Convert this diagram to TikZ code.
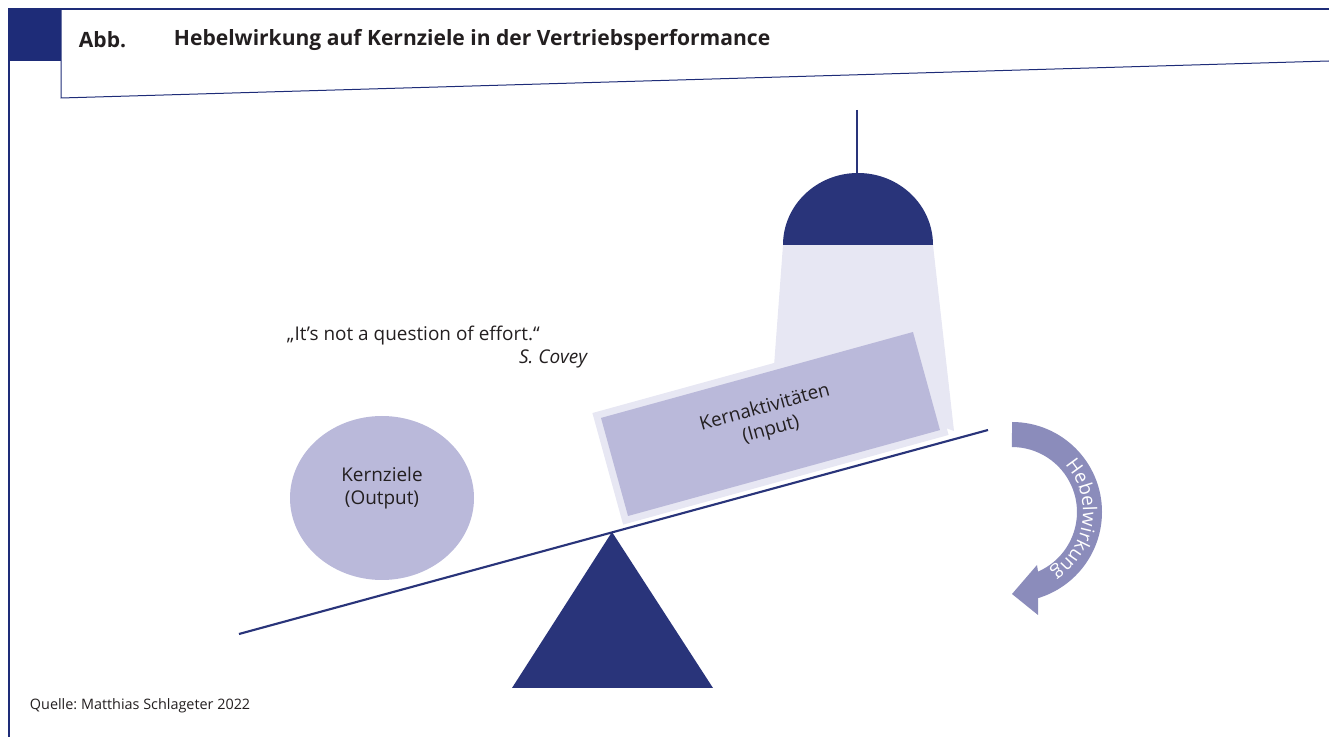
\documentclass[tikz,border=0pt]{standalone}
\usepackage{fontspec}
\setmainfont{Open Sans}
\usetikzlibrary{shapes.geometric,decorations.text}
\frenchspacing

\definecolor{navy}{RGB}{41,52,122}
\definecolor{framecol}{RGB}{30,44,120}
\definecolor{beamcol}{RGB}{231,231,243}
\definecolor{boxcol}{RGB}{186,185,218}
\definecolor{hebelcol}{RGB}{139,140,187}
\definecolor{inkcol}{RGB}{35,31,32}

\tikzset{every picture/.style={line width=0.75pt}}
\tikzset{
  txt/.style={text=inkcol, font=\fontsize{14.2}{17}\selectfont, align=center},
  ttl/.style={text=inkcol, font=\fontsize{15.8}{19}\selectfont\bfseries, anchor=west},
  goalbox/.style={ellipse, fill=boxcol, inner sep=0pt},
  actbox/.style={rectangle, fill=boxcol, inner sep=0pt},
}

\begin{document}
\begin{tikzpicture}[x=0.75pt,y=0.75pt,yscale=-1,xscale=1]
	\useasboundingbox (0,0) rectangle (1329,737);

	%Frame
	\draw[framecol, line width=1.1pt] (9,737) -- (9,9) -- (1329,9) ;
	\fill[framecol] (9,9) rectangle (61,61) ;
	\draw[framecol] (61,9) -- (61,98) -- (1329,61) ;

	% Title
	\node[ttl] (abb) at (74,40) {Abb.};
	\node[ttl] (titel) at (169,40) {Hebelwirkung auf Kernziele in der Vertriebsperformance};

	%Light beam
	\fill[beamcol] (783,245) -- (933,245) -- (954,431) -- (774,366) -- cycle ;
	\node[rectangle, fill=beamcol, rotate=15.4, minimum width=253.2pt, minimum height=86.8pt] (halo) at (770.5,424) {};
	%Lamp
	\draw[navy, line width=1.6pt] (857,110) -- (857,175) ;
	\fill[navy] (783,245) arc[start angle=180, end angle=360, x radius=75, y radius=72] -- cycle ;

	% Input box
	\node[actbox, rotate=15.4, minimum width=242.7pt, minimum height=76.3pt] (kernakt) at (770.5,424) {};
	\node[txt, rotate=15.4] (kernakttxt) at (768,419) {Kernaktivitäten\\(Input)};

	%Lever
	\draw[navy, line width=1.6pt] (239,634) -- (988,430) ;
	\fill[navy] (612,532) -- (713,688) -- (512,688) -- cycle ;

	% Output circle
	\node[goalbox, minimum width=138pt, minimum height=123pt] (kernziele) at (382,498) {};
	\node[txt] (kernzieletxt) at (382,488) {Kernziele\\(Output)};

	% Quote
	\node[txt, anchor=west] (zitat) at (282,336) {„It’s not a question of effort.“};
	\node[txt, anchor=east, font=\fontsize{14.2}{17}\selectfont\itshape] (covey) at (592,359) {S. Covey};

	%Curved arrow
	\fill[hebelcol] (1012,422) arc[start angle=-90, end angle=73.2, radius=90] -- (1038,615) -- (1012,594) -- (1037,565) -- (1038,571.6) arc[start angle=66.4, end angle=-90, radius=65] -- cycle ;
	\path[decorate, decoration={text along path, text align=center,
	    text={|\color{white}\fontsize{14.2}{17}\selectfont|Hebelwirkung}}]
	  (1012,512) ++(-52:71) arc[start angle=-52, end angle=67, radius=71] ;

	% Source
	\node[anchor=west, text=inkcol, font=\fontsize{10.8}{13}\selectfont] (quelle) at (25,706) {Quelle: Matthias Schlageter 2022};

\end{tikzpicture}
\end{document}
